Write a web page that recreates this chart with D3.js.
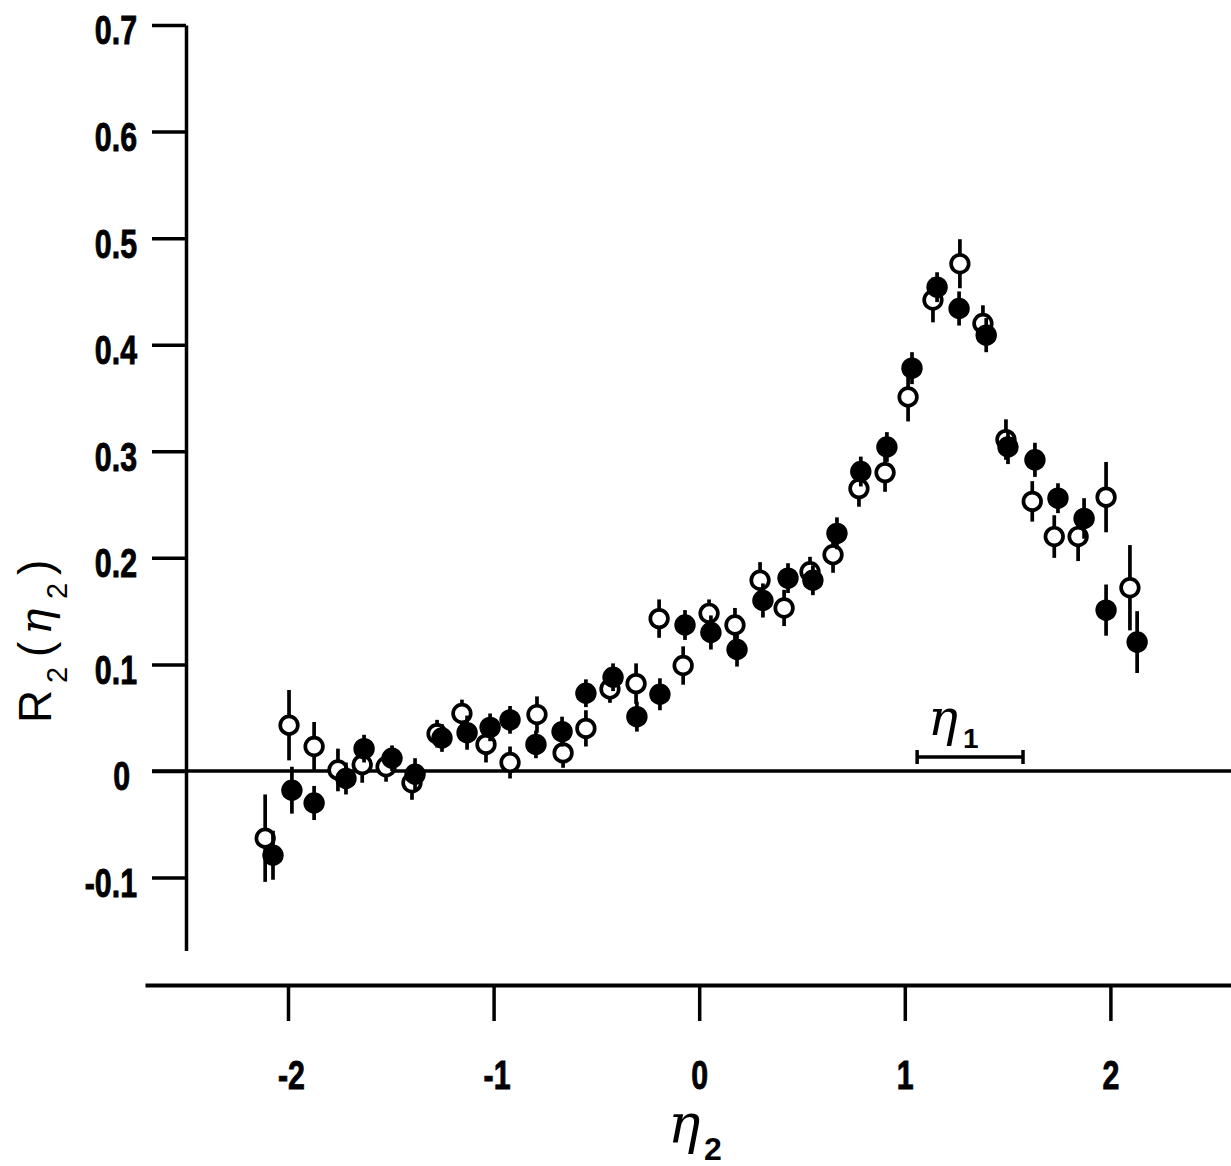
<!DOCTYPE html>
<html><head><meta charset="utf-8">
<script src="https://cdn.jsdelivr.net/npm/d3@7"></script>
<style>
body{margin:0;background:#fff}
.tick text{font-family:"Liberation Sans",Arial,sans-serif;font-weight:bold;font-size:41px;fill:#000;stroke:#000;stroke-width:0.9px}
</style>
</head><body><svg id="c" width="1231" height="1166"></svg>
<script>
// ---- data ----
const etaFilled = [-2.073,-1.981,-1.873,-1.718,-1.630,-1.494,-1.382,-1.251,-1.129,-1.017,-0.920,-0.794,-0.667,-0.551,-0.419,-0.303,-0.191,-0.069,0.057,0.184,0.310,0.432,0.553,0.670,0.786,0.913,1.035,1.157,1.264,1.396,1.502,1.633,1.745,1.872,1.979,2.130];
const rFilled   = [-0.079,-0.018,-0.030,-0.007,0.021,0.012,-0.003,0.031,0.036,0.041,0.048,0.025,0.037,0.073,0.088,0.051,0.072,0.137,0.130,0.114,0.160,0.181,0.179,0.223,0.281,0.304,0.378,0.454,0.434,0.409,0.304,0.292,0.256,0.237,0.151,0.121];
const errFilled = [0.023,0.022,0.016,0.015,0.013,0.012,0.015,0.013,0.016,0.013,0.013,0.013,0.014,0.013,0.013,0.014,0.015,0.014,0.016,0.016,0.016,0.014,0.014,0.015,0.014,0.014,0.015,0.014,0.016,0.016,0.016,0.016,0.014,0.019,0.024,0.029];

const etaOpen = [-2.111,-1.995,-1.873,-1.757,-1.639,-1.523,-1.397,-1.275,-1.154,-1.037,-0.920,-0.789,-0.662,-0.551,-0.434,-0.307,-0.195,-0.078,0.048,0.174,0.296,0.413,0.539,0.651,0.777,0.904,1.016,1.137,1.268,1.380,1.492,1.620,1.727,1.843,1.979,2.095];
const rOpen   = [-0.063,0.043,0.023,0.001,0.006,0.004,-0.011,0.035,0.054,0.025,0.008,0.053,0.017,0.040,0.077,0.082,0.143,0.099,0.148,0.137,0.179,0.153,0.187,0.203,0.265,0.280,0.351,0.442,0.476,0.420,0.311,0.253,0.220,0.220,0.257,0.172];
const errOpen = [0.041,0.033,0.023,0.020,0.017,0.014,0.016,0.013,0.013,0.017,0.015,0.017,0.014,0.017,0.013,0.019,0.018,0.018,0.013,0.016,0.017,0.017,0.014,0.017,0.017,0.018,0.023,0.021,0.023,0.017,0.019,0.019,0.020,0.023,0.033,0.040];

const xTicks = [-2,-1,0,1,2];
const yTicks = [0.7,0.6,0.5,0.4,0.3,0.2,0.1,0,-0.1];
const eta1Range = [1.06, 1.575];

// ---- scales ----
const svg = d3.select("#c");
const x = d3.scaleLinear().domain([-2.6955, 2.5866]).range([145, 1231]);
const y = d3.scaleLinear().domain([-0.1685, 0.7]).range([950.6, 25]);
const yAxisX = 186, xAxisY = 985;
const SX = 0.74; // horizontal condensing of tick labels

// ---- y axis ----
const gy = svg.append("g").attr("transform",`translate(${yAxisX},0)`)
  .call(d3.axisLeft(y).tickValues(yTicks).tickSize(34).tickSizeOuter(0).tickPadding(15)
        .tickFormat(d => d === 0 ? "0" : d.toFixed(1)));
gy.select(".domain").attr("stroke","#000").attr("stroke-width",3.5);
gy.selectAll(".tick line").attr("stroke","#000").attr("stroke-width",3.5);
gy.selectAll(".tick text").attr("dy","0.46em")
  .attr("x", d => (d === 0 ? -56 : -49) / SX)
  .attr("transform", `scale(${SX},1)`);

// ---- x axis ----
const gx = svg.append("g").attr("transform",`translate(0,${xAxisY})`)
  .call(d3.axisBottom(x).tickValues(xTicks).tickSize(36).tickSizeOuter(0).tickPadding(39)
        .tickFormat(d => d < 0 ? "-" + Math.abs(d) : String(d)));
gx.select(".domain").attr("stroke","#000").attr("stroke-width",4);
gx.selectAll(".tick line").attr("stroke","#000").attr("stroke-width",3.5);
gx.selectAll(".tick text")
  .attr("x", d => (d < 0 ? 3 : 0) / SX)
  .attr("transform", `scale(${SX},1)`);

// ---- zero line ----
svg.append("line").attr("x1",152).attr("x2",1231).attr("y1",y(0)).attr("y2",y(0))
  .attr("stroke","#000").attr("stroke-width",3.5);

// ---- eta1 range bar ----
const ey = y(0) - 14;
const ann = svg.append("g");
ann.append("line").attr("x1",x(eta1Range[0])).attr("x2",x(eta1Range[1])).attr("y1",ey).attr("y2",ey)
  .attr("stroke","#000").attr("stroke-width",3.5);
eta1Range.forEach(v => ann.append("line").attr("x1",x(v)).attr("x2",x(v)).attr("y1",ey-7).attr("y2",ey+7)
  .attr("stroke","#000").attr("stroke-width",3.5));
const t1 = ann.append("text").attr("x",928).attr("y",735)
  .style("font-family","'DejaVu Serif',serif").style("font-style","italic").style("font-size","50px");
t1.append("tspan").text("η");
t1.append("tspan").attr("x",963).attr("y",748)
  .style("font-family","'Liberation Sans',sans-serif").style("font-style","normal")
  .style("font-size","28px").style("font-weight","bold").text("1");

// ---- series ----
const openData = etaOpen.map((e,i)=>({e, r:rOpen[i], s:errOpen[i]}));
const filledData = etaFilled.map((e,i)=>({e, r:rFilled[i], s:errFilled[i]}));

function drawBars(data){
  svg.append("g").selectAll("line").data(data).join("line")
    .attr("x1",d=>x(d.e)).attr("x2",d=>x(d.e))
    .attr("y1",d=>y(d.r - d.s)).attr("y2",d=>y(d.r + d.s))
    .attr("stroke","#000").attr("stroke-width",3.7);
}
drawBars(openData);
svg.append("g").selectAll("circle").data(openData).join("circle")
  .attr("cx",d=>x(d.e)).attr("cy",d=>y(d.r)).attr("r",8.8)
  .attr("fill","#fff").attr("stroke","#000").attr("stroke-width",3.7);
drawBars(filledData);
svg.append("g").selectAll("circle").data(filledData).join("circle")
  .attr("cx",d=>x(d.e)).attr("cy",d=>y(d.r)).attr("r",10.7).attr("fill","#000");

// ---- y label R2(eta2) ----
const yl = svg.append("g").attr("transform","translate(51,723) rotate(-90)");
const yt = yl.append("text").style("font-family","'Liberation Sans','Arial',sans-serif").style("font-size","46px").attr("fill","#000");
yt.append("tspan").attr("x",0).attr("y",0).text("R");
yt.append("tspan").attr("x",40).attr("y",16).style("font-size","29px").text("2");
yt.append("tspan").attr("x",66).attr("y",0).text("(");
yt.append("tspan").attr("x",88).attr("y",0).style("font-family","'DejaVu Serif',serif").style("font-style","italic").style("font-size","44px").text("η");
yt.append("tspan").attr("x",124).attr("y",16).style("font-size","29px").text("2");
yt.append("tspan").attr("x",148).attr("y",0).text(")");

// ---- x label eta2 ----
const xl = svg.append("text").attr("x",668).attr("y",1143)
  .style("font-family","'DejaVu Serif',serif").style("font-style","italic").style("font-size","54px");
xl.append("tspan").text("η");
xl.append("tspan").attr("x",704).attr("y",1160)
  .style("font-family","'Liberation Sans','Arial',sans-serif").style("font-style","normal")
  .style("font-weight","bold").style("font-size","32px").text("2");
</script>
</body></html>
